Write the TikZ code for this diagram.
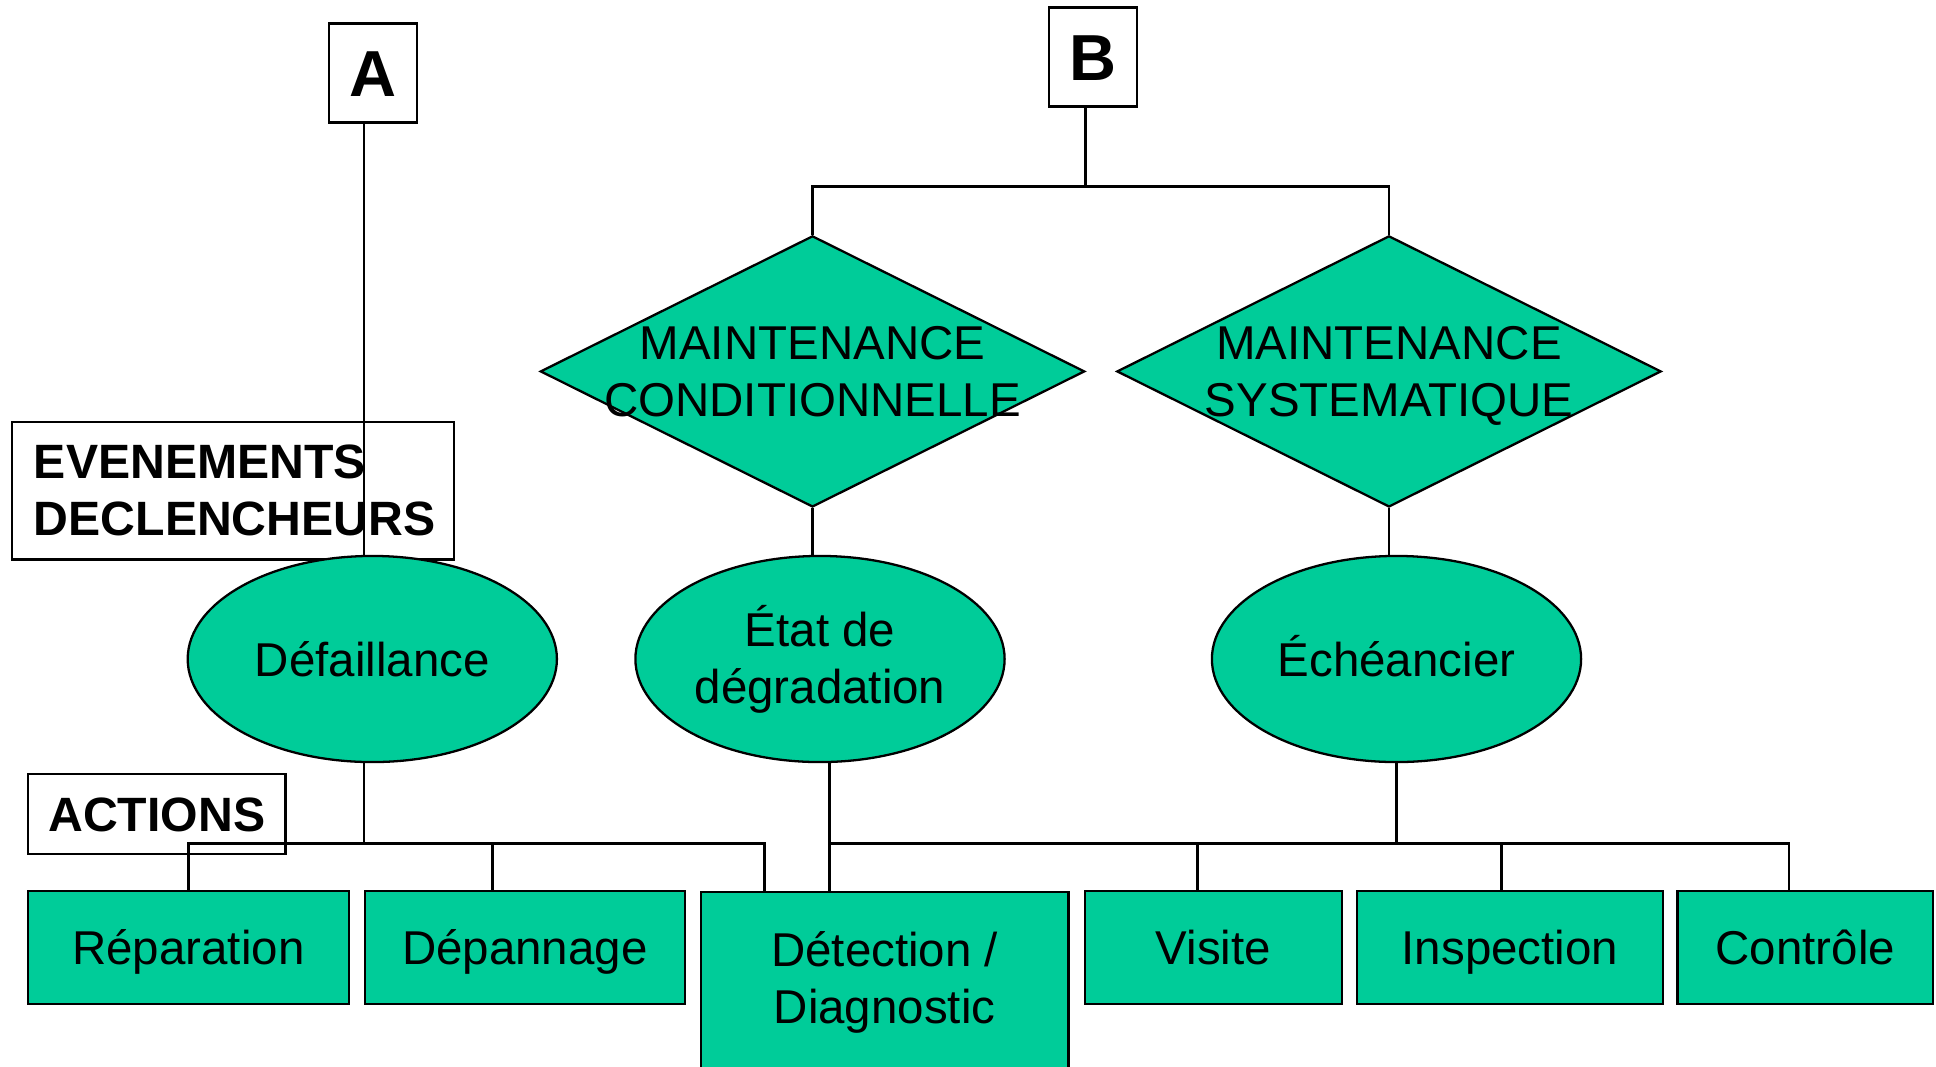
\documentclass[tikz,border=0pt]{standalone}
\usepackage{fontspec}
\setmainfont{Liberation Sans}
\usetikzlibrary{shapes.geometric, positioning}
\definecolor{mgreen}{RGB}{0,204,153}

\begin{document}
\begin{tikzpicture}[x=0.01cm, y=-0.01cm, line width=0.75pt,
    every node/.style={font=\fontsize{13.5}{16.2}\selectfont, inner sep=0pt, line width=0.65pt},
    caps/.style={text height=9.7pt, text depth=0pt},
    tag/.style={draw, fill=white, font=\fontsize{13.7}{16.2}\selectfont\bfseries},
    letter/.style={draw, fill=white, font=\fontsize{18.5}{22}\selectfont\bfseries,
                   text height=13.2pt, text depth=0pt,
                   minimum width=0.88cm, minimum height=0.99cm},
    losange/.style={draw, fill=mgreen, diamond, minimum width=5.44cm, minimum height=2.71cm},
    oval/.style={draw, fill=mgreen, ellipse, align=center, minimum width=3.69cm, minimum height=2.06cm},
    action/.style={draw, fill=mgreen, align=center, minimum height=1.13cm}]
\useasboundingbox (0,0) rectangle (1936,1066);
        % Draw the titles
        \node[letter] at (373, 73)  (A) {A};
        \node[letter] at (1093, 57) (B) {B};
        \node[tag, text width=3.976cm, inner xsep=0.22cm, minimum height=1.375cm, align=left]
            at (232.8, 490.8) (evt) {EVENEMENTS\\DECLENCHEURS};
        \node[tag, caps, minimum width=2.575cm, minimum height=0.8cm] at (156.8, 814) (act) {ACTIONS};
        % Draw the kinds of maintenance
        \node[losange] at (812.5, 371.4) (mc) {};
        \node[align=center, text depth=0pt] at (mc) (mc-txt) {MAINTENANCE\\CONDITIONNELLE};
        \node[losange] at (1389, 371.4) (ms) {};
        \node[align=center, text depth=0pt] at (ms) (ms-txt) {MAINTENANCE\\SYSTEMATIQUE};
        % Draw the events
        \node[oval, caps] at (372.3, 659) (dfl) {Défaillance};
        \node[oval] at (820, 659)   (deg) {État de\\dégradation};
        \node[oval, caps] at (1396.5, 659) (ech) {Échéancier};
        % Draw the actions
        \node[action, caps, minimum width=3.207cm] at (188.4, 947.5)  (rep) {Réparation};
        \node[action, caps, minimum width=3.2cm]   at (524.8, 947.5)  (dep) {Dépannage};
        \node[action, minimum width=3.676cm, minimum height=1.8cm] at (884.6, 982) (det) {Détection /\\Diagnostic};
        \node[action, caps, minimum width=2.57cm]  at (1213.5, 947.5) (vis) {Visite};
        \node[action, caps, minimum width=3.057cm] at (1509.9, 947.5) (ins) {Inspection};
        \node[action, caps, minimum width=2.554cm] at (1805.3, 947.5) (con) {Contrôle};
        % Junctions of the connectors
        \coordinate (ax) at (364, 843.3);
        \coordinate (bj) at (1085.4, 186.4);
        \coordinate (dx) at (829.2, 843.3);
        % Connect A and B
        \draw (A.south -| ax) -- (dfl.north -| ax)
              (B.south -| bj) -- (bj)
              (mc.north) |- (bj) -| (ms.north)
              (mc.south) -- (mc.south |- deg.north)
              (ms.south) -- (ms.south |- ech.north);
        % Connect the events to the actions
        \draw (dfl.south -| ax) -- (ax)
              (rep.north) |- (764.6, 843.3) -- (764.6, 891)
              (deg.south -| dx) -- (det.north -| dx)
              (dx) -- (1789, 843.3) -- (1789, 891)
              (ech.south) -- (ech.south |- dx);
        \foreach \x/\n in {492.5/dep, 1197.4/vis, 1501.8/ins}
            \path (\x, 843.3) coordinate (t) [draw] -- (t |- \n.north);
\end{tikzpicture}
\end{document}
